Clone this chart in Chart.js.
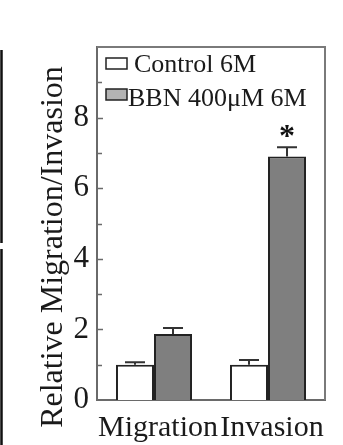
<!DOCTYPE html>
<html>
<head>
<meta charset="utf-8">
<script src="https://cdn.jsdelivr.net/npm/chart.js@4.4.1/dist/chart.umd.min.js"></script>
<style>
  html, body { margin: 0; padding: 0; background: #fff; }
  #wrap { position: relative; width: 343px; height: 445px; }
</style>
</head>
<body>
<div id="wrap"><canvas id="c" width="343" height="445"></canvas></div>
<script>
// Assay categories and group means (relative to control)
const categories = ['Migration', 'Invasion'];
const seriesNames = ['Control 6M', 'BBN 400\u03bcM 6M'];
const controlValues = [1.0, 1.0];
const bbnValues = [1.87, 6.9];
// Error bar half-widths (upper arm only)
const controlErrors = [0.07, 0.13];
const bbnErrors = [0.17, 0.26];
// Significance markers per category for the BBN series
const bbnMarks = ['', '*'];
const yTickLabels = ['0', '2', '4', '6', '8'];
const yAxisTitle = 'Relative Migration/Invasion';

const SERIF = '"Liberation Serif", "Times New Roman", serif';

const errorBarPlugin = {
  id: 'errorBars',
  afterDatasetsDraw(chart) {
    const ctx = chart.ctx;
    const y = chart.scales.y;
    const errs = [controlErrors, bbnErrors];
    chart.data.datasets.forEach((ds, di) => {
      const meta = chart.getDatasetMeta(di);
      meta.data.forEach((bar, i) => {
        const v = ds.data[i];
        const top = y.getPixelForValue(v + errs[di][i]);
        const base = y.getPixelForValue(v);
        ctx.save();
        ctx.strokeStyle = '#333';
        ctx.lineWidth = 2;
        ctx.beginPath();
        ctx.moveTo(bar.x, base);
        ctx.lineTo(bar.x, top);
        ctx.moveTo(bar.x - 10, top);
        ctx.lineTo(bar.x + 10, top);
        ctx.stroke();
        if (di === 1 && bbnMarks[i]) {
          ctx.fillStyle = '#111';
          ctx.font = 'bold 32px ' + SERIF;
          ctx.textAlign = 'center';
          ctx.textBaseline = 'alphabetic';
          ctx.fillText(bbnMarks[i], bar.x, top - 1);
        }
        ctx.restore();
      });
    });
  }
};

const framePlugin = {
  id: 'frame',
  beforeDatasetsDraw(chart) {
    const { ctx, chartArea: a } = chart;
    ctx.save();
    ctx.strokeStyle = '#7a7a7a';
    ctx.lineWidth = 2;
    ctx.beginPath();
    ctx.moveTo(a.left, a.top);
    ctx.lineTo(a.right, a.top);
    ctx.lineTo(a.right, a.bottom);
    ctx.stroke();
    ctx.restore();
  },
  afterDraw(chart) {
    const { ctx, chartArea: a } = chart;
    const y = chart.scales.y;
    ctx.save();
    // inward tick marks on the value axis, minor ones at odd values
    ctx.strokeStyle = '#6a6a6a';
    ctx.lineWidth = 1.5;
    for (let v = 1; v <= 9; v++) {
      const py = Math.round(y.getPixelForValue(v)) + 0.5;
      const len = v % 2 === 0 ? 6 : 5;
      ctx.beginPath();
      ctx.moveTo(a.left, py);
      ctx.lineTo(a.left + len, py);
      ctx.stroke();
    }
    // axis title
    ctx.fillStyle = '#1a1a1a';
    ctx.font = '32px ' + SERIF;
    ctx.textAlign = 'center';
    ctx.textBaseline = 'alphabetic';
    ctx.translate(62, 247);
    ctx.rotate(-Math.PI / 2);
    ctx.fillText(yAxisTitle, 0, 0);
    ctx.restore();

    // legend inside the plot area
    ctx.save();
    ctx.font = '26px ' + SERIF;
    ctx.textBaseline = 'alphabetic';
    ctx.fillStyle = '#1a1a1a';
    const fills = ['#ffffff', '#b3b3b3'];
    const rows = [{ by: 58, tx: 134, ty: 72 }, { by: 89, tx: 128, ty: 106 }];
    chart.data.datasets.forEach((ds, i) => {
      const r = rows[i];
      ctx.fillStyle = fills[i];
      ctx.fillRect(106, r.by, 21, 11);
      ctx.strokeStyle = '#222';
      ctx.lineWidth = 1.5;
      ctx.strokeRect(106, r.by, 21, 11);
      ctx.fillStyle = '#1a1a1a';
      ctx.fillText(ds.label, r.tx, r.ty);
    });
    ctx.restore();

    // edge of the neighbouring panel
    ctx.save();
    ctx.strokeStyle = '#111';
    ctx.lineWidth = 2.5;
    ctx.beginPath();
    ctx.moveTo(1.5, 50);
    ctx.lineTo(1.5, 243);
    ctx.moveTo(1.5, 249);
    ctx.lineTo(1.5, 445);
    ctx.stroke();
    ctx.restore();
  }
};

new Chart(document.getElementById('c'), {
  type: 'bar',
  data: {
    labels: categories,
    datasets: [
      {
        label: seriesNames[0],
        data: controlValues,
        backgroundColor: '#ffffff',
        borderColor: '#222',
        borderWidth: 2,
        borderSkipped: 'bottom',
        categoryPercentage: 0.667,
        barPercentage: 1.0
      },
      {
        label: seriesNames[1],
        data: bbnValues,
        backgroundColor: '#7f7f7f',
        borderColor: '#222',
        borderWidth: 2,
        borderSkipped: 'bottom',
        categoryPercentage: 0.667,
        barPercentage: 1.0
      }
    ]
  },
  options: {
    responsive: false,
    animation: false,
    devicePixelRatio: 1,
    layout: { padding: { top: 47, right: 18, left: 0, bottom: 0 } },
    plugins: {
      legend: { display: false },
      tooltip: { enabled: false }
    },
    scales: {
      x: {
        grid: { display: false, drawTicks: false },
        border: { display: true, color: '#6a6a6a', width: 2 },
        ticks: {
          color: '#1a1a1a',
          font: { family: SERIF, size: 30 },
          padding: 10,
          labelOffset: 4,
          maxRotation: 0,
          autoSkip: false
        },
        afterFit(scale) { scale.height = 45; }
      },
      y: {
        min: 0,
        max: 10,
        grid: { display: false, drawTicks: false },
        border: { display: true, color: '#6a6a6a', width: 2 },
        ticks: {
          stepSize: 2,
          color: '#1a1a1a',
          font: { family: SERIF, size: 31 },
          padding: 8,
          callback(value) {
            const s = String(value);
            return yTickLabels.includes(s) ? s : '';
          }
        },
        afterFit(scale) { scale.width = 97; }
      }
    }
  },
  plugins: [errorBarPlugin, framePlugin]
});
</script>
</body>
</html>
